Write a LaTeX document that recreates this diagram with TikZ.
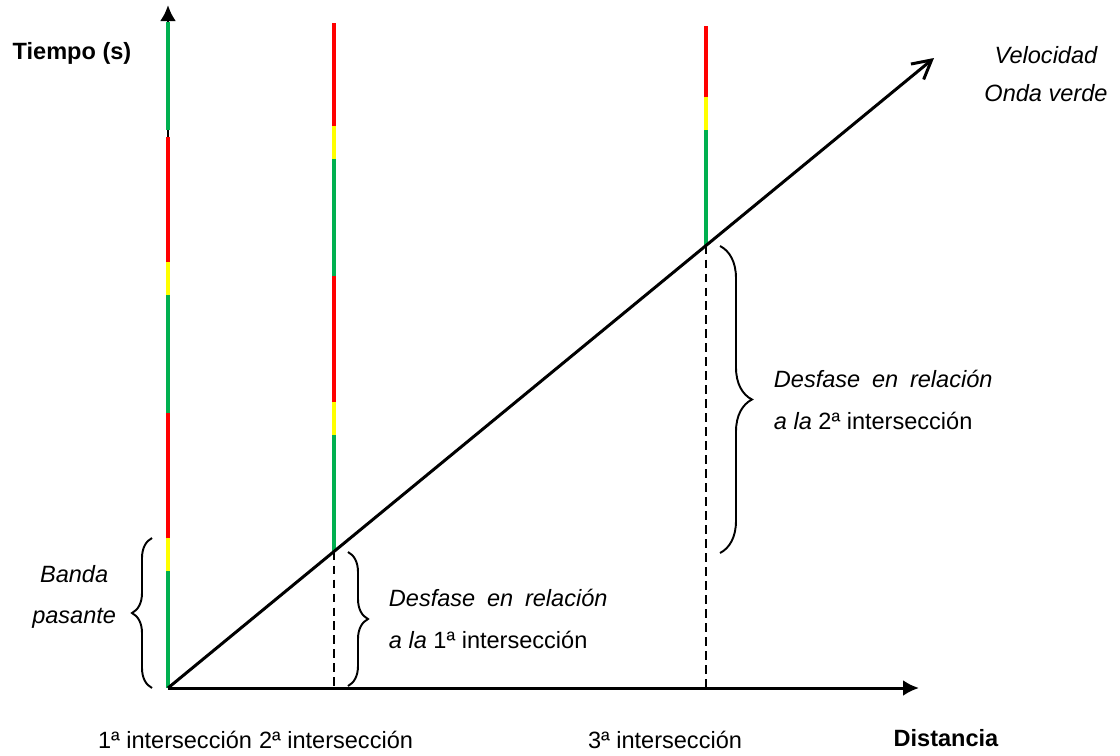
\documentclass[tikz,border=0pt]{standalone}
\usepackage{fontspec}
\setmainfont{Liberation Sans}
\usetikzlibrary{arrows.meta,decorations.pathreplacing,positioning}
\definecolor{sgreen}{HTML}{00B050}
\definecolor{syellow}{HTML}{FFFF00}
\definecolor{sred}{HTML}{FF0000}
\newcommand{\labelsize}[1]{\fontsize{13.4}{#1}\selectfont}

\begin{document}
\begin{tikzpicture}[x=0.02cm, y=-0.02cm,
  axis/.style = {line width=1.7pt, -{Latex[length=0.32cm,width=0.32cm]}},
  diag/.style = {line width=1.7pt, -{Straight Barb[length=0.37cm,width=0.4cm]}},
  phase/.style = {line width=2.6pt},
  guide/.style = {line width=1.1pt, dash pattern=on 0.17cm off 0.11cm},
  brace/.style = {decorate, line width=1.1pt, decoration={brace, amplitude=#1}},
  txt/.style = {inner sep=0, font=\labelsize{22}}]
\useasboundingbox (0,0) rectangle (1120,755);

% axes and green wave line
\coordinate (O) at (168,688);
\coordinate (ytop) at (168,5);
\coordinate (xend) at (919,688);
\coordinate (v) at (934,58);
\coordinate (p2) at (334,551.5);
\coordinate (p3) at (706,245.5);
\coordinate (b2) at (334,688);
\coordinate (b3) at (706,688);

\draw[guide] (p2) -- (b2);
\draw[guide] (p3) -- (b3);
\draw[axis] (O) -- (ytop);
\draw[axis] (O) -- (xend);

% signal phases
\foreach \ya/\yb/\c in {688/571/sgreen, 571/538/syellow, 538/413/sred, 413/295/sgreen,
                        295/262/syellow, 262/137/sred, 130/22/sgreen}
  \draw[phase, \c] (168,\ya) -- (168,\yb);
\foreach \ya/\yb/\c in {551/435/sgreen, 435/402/syellow, 402/276/sred, 276/159/sgreen,
                        159/126/syellow, 126/23/sred}
  \draw[phase, \c] (334,\ya) -- (334,\yb);
\foreach \ya/\yb/\c in {245/130/sgreen, 130/97/syellow, 97/26/sred}
  \draw[phase, \c] (706,\ya) -- (706,\yb);

\draw[diag] (O) -- (v);

% braces
\draw[brace=0.4cm] (152,688) -- (152,538)
  node[midway, left=0.7cm, yshift=0.32cm, txt, align=center, font=\labelsize{23.3}\itshape] (banda) {Banda\\pasante};
\draw[brace=0.4cm] (348,552) -- (348,686)
  node[midway, right=0.8cm, txt, align=left, font=\labelsize{23.5}] (des1)
  {{\itshape Desfase\enspace en\enspace relación}\\{\itshape a la} 1ª intersección};
\draw[brace=0.64cm] (720,246) -- (720,553)
  node[midway, right=1.06cm, txt, align=left, font=\labelsize{23.9}] (des2)
  {{\itshape Desfase\enspace en\enspace relación}\\{\itshape a la} 2ª intersección};

% labels
\node[txt] (tiempo) at (72,53) {\bfseries Tiempo (s)};
\node[txt, align=center, font=\labelsize{21.6}\itshape] (vel) at (1046,74) {Velocidad\\Onda verde};
\node[txt] (int1) at (175,740) {1ª intersección};
\node[txt] (int2) at (336,740) {2ª intersección};
\node[txt] (int3) at (665,740) {3ª intersección};
\node[txt] (dist) at (946,738) {\bfseries Distancia};
\end{tikzpicture}
\end{document}
